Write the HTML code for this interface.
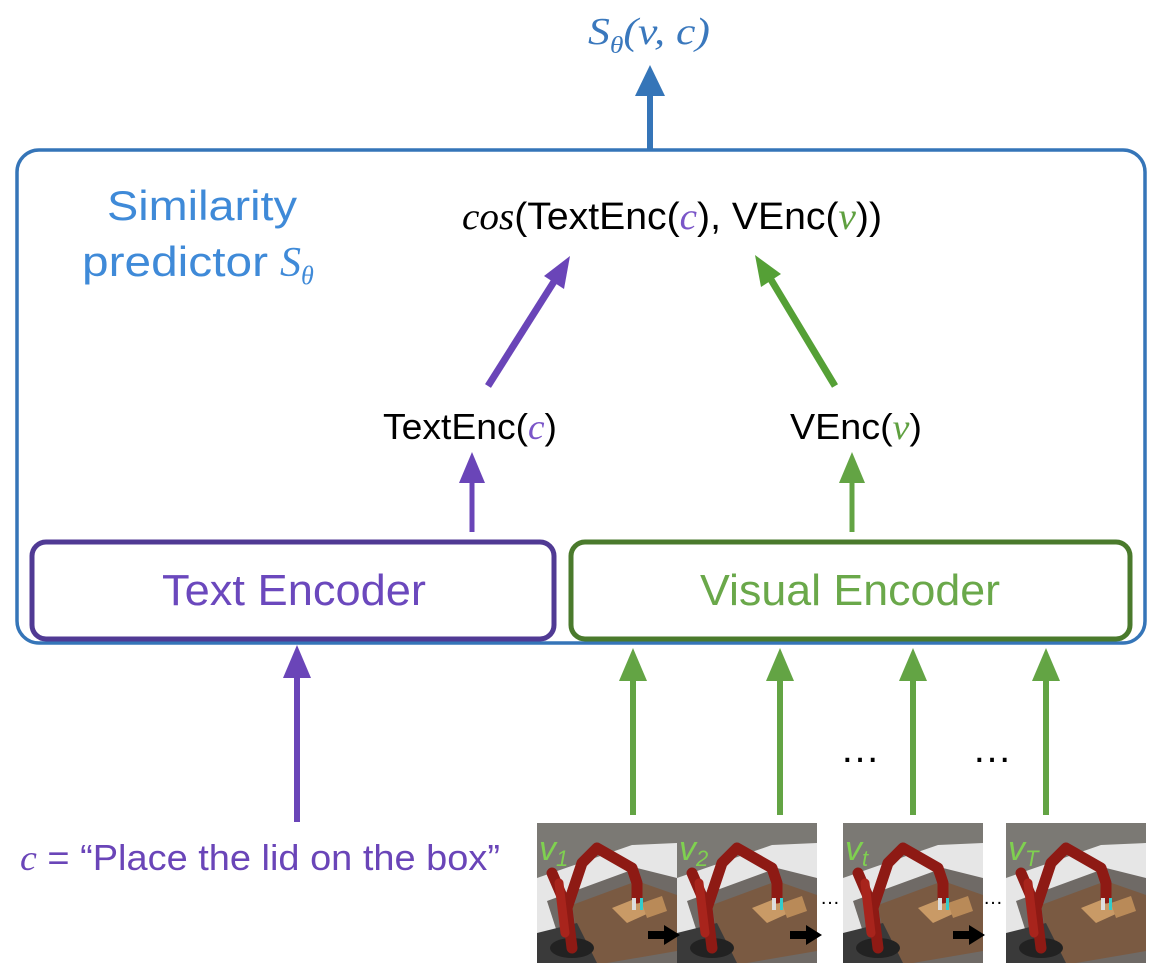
<!DOCTYPE html>
<html><head><meta charset="utf-8"><style>
html,body{margin:0;padding:0;background:#fff;}
svg{display:block}
text{font-family:"Liberation Sans",Arial,sans-serif;}
.m{font-family:"Liberation Serif",serif;font-style:italic;}
</style></head><body>
<svg width="1150" height="980" viewBox="0 0 1150 980" xmlns="http://www.w3.org/2000/svg">
<defs>
<g id="frame">
  <rect x="0" y="0" width="140" height="140" fill="#7b7974"/>
  <polygon points="0,55 95,22 140,20 140,140 0,140" fill="#e6e6e6"/>
  <polygon points="10,78 100,45 140,55 140,140 30,140" fill="#6f6a66"/>
  <polygon points="35,82 100,58 140,72 140,128 70,140 45,140" fill="#7a5a42"/>
  <polygon points="75,85 100,75 112,90 90,100" fill="#c99a66"/>
  <polygon points="105,80 125,73 130,88 110,95" fill="#b98a58"/>
  <polygon points="0,110 40,100 60,140 0,140" fill="#3a3a3a"/>
  <ellipse cx="35" cy="125" rx="22" ry="10" fill="#222"/>
  <path d="M35 125 L30 85 L15 50 M30 85 L45 40 L60 25 L95 45 L100 60 L100 75" stroke="#8e1a14" stroke-width="11" fill="none" stroke-linecap="round" stroke-linejoin="round"/>
  <path d="M28 110 L22 60" stroke="#a8241c" stroke-width="9" fill="none" stroke-linecap="round"/>
  <rect x="95" y="75" width="4" height="12" fill="#ddd"/>
  <rect x="103" y="75" width="3" height="12" fill="#3cc"/>
</g>
</defs>

<!-- top output -->
<text x="588" y="44" class="m" font-size="38" fill="#3a78bd" textLength="122" lengthAdjust="spacingAndGlyphs">S<tspan font-size="24" dy="9">θ</tspan><tspan dy="-9">(v, c)</tspan></text>
<line x1="650" y1="95" x2="650" y2="150" stroke="#3575b8" stroke-width="6"/>
<polygon points="650,65 635,96 665,96" fill="#3575b8"/>

<!-- main box -->
<rect x="17" y="150" width="1128" height="493" rx="22" fill="none" stroke="#3575b8" stroke-width="3.5"/>
<text x="107" y="220" font-size="42" fill="#3f8ad8" textLength="190" lengthAdjust="spacingAndGlyphs">Similarity</text>
<text x="82" y="276" font-size="42" fill="#3f8ad8" textLength="186" lengthAdjust="spacingAndGlyphs">predictor</text>
<text x="280" y="276" class="m" font-size="42" fill="#3f8ad8">S<tspan font-size="26" dy="8">θ</tspan></text>

<text x="462" y="229" font-size="38" fill="#000" textLength="420" lengthAdjust="spacingAndGlyphs"><tspan class="m">cos</tspan>(TextEnc(<tspan class="m" fill="#7a55c8">c</tspan>), VEnc(<tspan class="m" fill="#5fa040">v</tspan>))</text>

<!-- diagonal arrows -->
<line x1="488" y1="386" x2="555" y2="280" stroke="#6a45b8" stroke-width="7"/>
<polygon points="570,256 544,276 564,289" fill="#6a45b8"/>
<line x1="835" y1="386" x2="770" y2="278" stroke="#55a036" stroke-width="7"/>
<polygon points="755,255 761,287 781,274" fill="#55a036"/>

<text x="383" y="439" font-size="36" fill="#000" textLength="174" lengthAdjust="spacingAndGlyphs">TextEnc(<tspan class="m" fill="#7a55c8">c</tspan>)</text>
<text x="790" y="439" font-size="36" fill="#000" textLength="132" lengthAdjust="spacingAndGlyphs">VEnc(<tspan class="m" fill="#5fa040">v</tspan>)</text>

<line x1="472" y1="480" x2="472" y2="532" stroke="#6a45b8" stroke-width="5"/>
<polygon points="472,452 459,483 485,483" fill="#6a45b8"/>
<line x1="852" y1="480" x2="852" y2="532" stroke="#63a444" stroke-width="5"/>
<polygon points="852,452 839,483 865,483" fill="#63a444"/>

<!-- encoders -->
<rect x="32" y="542" width="522" height="97" rx="14" fill="#fff" stroke="#503a94" stroke-width="5"/>
<text x="162" y="605" font-size="44" fill="#6b48bd" textLength="264" lengthAdjust="spacingAndGlyphs">Text Encoder</text>
<rect x="571" y="542" width="559" height="97" rx="14" fill="#fff" stroke="#4a7a2c" stroke-width="5"/>
<text x="700" y="605" font-size="44" fill="#6aa84a" textLength="300" lengthAdjust="spacingAndGlyphs">Visual Encoder</text>

<!-- bottom arrows -->
<line x1="297" y1="675" x2="297" y2="822" stroke="#6a45b8" stroke-width="6"/>
<polygon points="297,645 283,678 311,678" fill="#6a45b8"/>
<g stroke="#63a444" stroke-width="6">
<line x1="633" y1="678" x2="633" y2="815"/>
<line x1="780" y1="678" x2="780" y2="815"/>
<line x1="913" y1="678" x2="913" y2="815"/>
<line x1="1046" y1="678" x2="1046" y2="815"/>
</g>
<g fill="#63a444">
<polygon points="633,648 619,681 647,681"/>
<polygon points="780,648 766,681 794,681"/>
<polygon points="913,648 899,681 927,681"/>
<polygon points="1046,648 1032,681 1060,681"/>
</g>
<text x="860" y="762" font-size="40" fill="#000" text-anchor="middle">…</text>
<text x="992" y="762" font-size="40" fill="#000" text-anchor="middle">…</text>

<text x="20" y="870" font-size="36" fill="#6a45b8" textLength="480" lengthAdjust="spacingAndGlyphs"><tspan class="m">c</tspan> =  “Place the lid on the box”</text>

<!-- frames -->
<use href="#frame" x="537" y="823"/>
<use href="#frame" x="677" y="823"/>
<use href="#frame" x="843" y="823"/>
<use href="#frame" x="1006" y="823"/>
<g class="m" font-size="34" fill="#7fd050">
<text x="539" y="860">v<tspan font-size="22" dy="6">1</tspan></text>
<text x="679" y="860">v<tspan font-size="22" dy="6">2</tspan></text>
<text x="845" y="860">v<tspan font-size="22" dy="6">t</tspan></text>
<text x="1008" y="860">v<tspan font-size="22" dy="6">T</tspan></text>
</g>
<text x="830" y="904" font-size="20" fill="#000" text-anchor="middle">…</text>
<text x="993" y="904" font-size="20" fill="#000" text-anchor="middle">…</text>
<g fill="#000">
<rect x="648" y="931" width="20" height="8"/><polygon points="664,925 680,935 664,945"/>
<rect x="790" y="931" width="20" height="8"/><polygon points="806,925 822,935 806,945"/>
<rect x="953" y="931" width="20" height="8"/><polygon points="969,925 985,935 969,945"/>
</g>
</svg>
</body></html>
